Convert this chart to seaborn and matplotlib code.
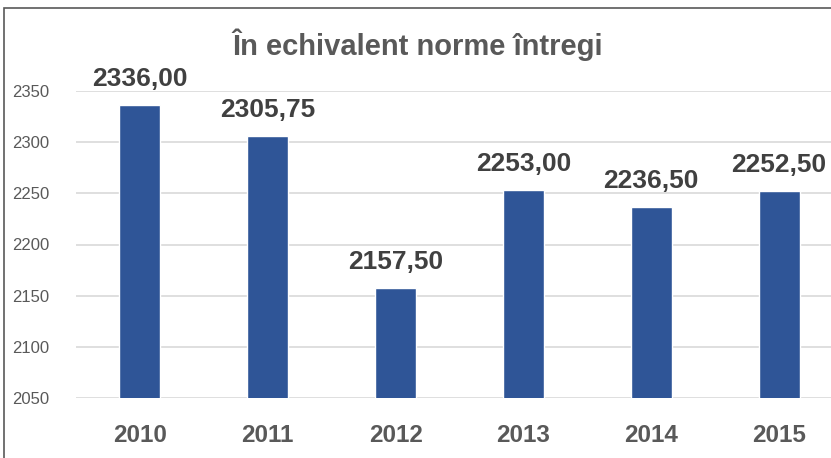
import matplotlib
matplotlib.use('Agg')
import matplotlib.pyplot as plt
import seaborn as sns

years = ['2010', '2011', '2012', '2013', '2014', '2015']
values = [2336.00, 2305.75, 2157.50, 2253.00, 2236.50, 2252.50]
yticks = [2050, 2100, 2150, 2200, 2250, 2300, 2350]

sns.set_style('white')
plt.rcParams['font.family'] = ['Liberation Sans', 'DejaVu Sans']

W, H = 831, 458
fig = plt.figure(figsize=(W / 100, H / 100), dpi=100)
ax = fig.add_axes([76 / W, 1 - 398 / H, 767 / W, 307 / H])

sns.barplot(x=years, y=values, color='#2F5597', width=0.32, saturation=1, ax=ax)

ax.set_ylim(2050, 2350)
ax.set_yticks(yticks)
ax.set_yticklabels([str(t) for t in yticks], fontsize=12, color='#595959')
ax.tick_params(axis='y', length=0, pad=19)
ax.tick_params(axis='x', length=0, pad=19, labelsize=17.5, labelcolor='#595959')
for lab in ax.get_xticklabels():
    lab.set_fontweight('bold')
ax.grid(axis='y', color='#D9D9D9', linewidth=1.2)
ax.set_axisbelow(True)
for s in ax.spines.values():
    s.set_visible(False)
ax.set_xlabel('')
ax.set_ylabel('')

labels = [f'{v:.2f}'.replace('.', ',') for v in values]
ax.bar_label(ax.containers[0], labels=labels, padding=10, fontsize=19,
             fontweight='bold', color='#404040', clip_on=False)

fig.text(0.5 + 2 / W, 1 - 45 / H, 'În echivalent norme întregi', ha='center', va='center',
         fontsize=21, color='#595959', fontweight='bold')

# outer chart frame
frame = plt.Rectangle((4 / W, -0.1), 1.0, 1 - 8 / H + 0.1, transform=fig.transFigure,
                      fill=False, edgecolor='#595959', linewidth=1.2)
fig.add_artist(frame)

fig.savefig('out.png', dpi=100)
